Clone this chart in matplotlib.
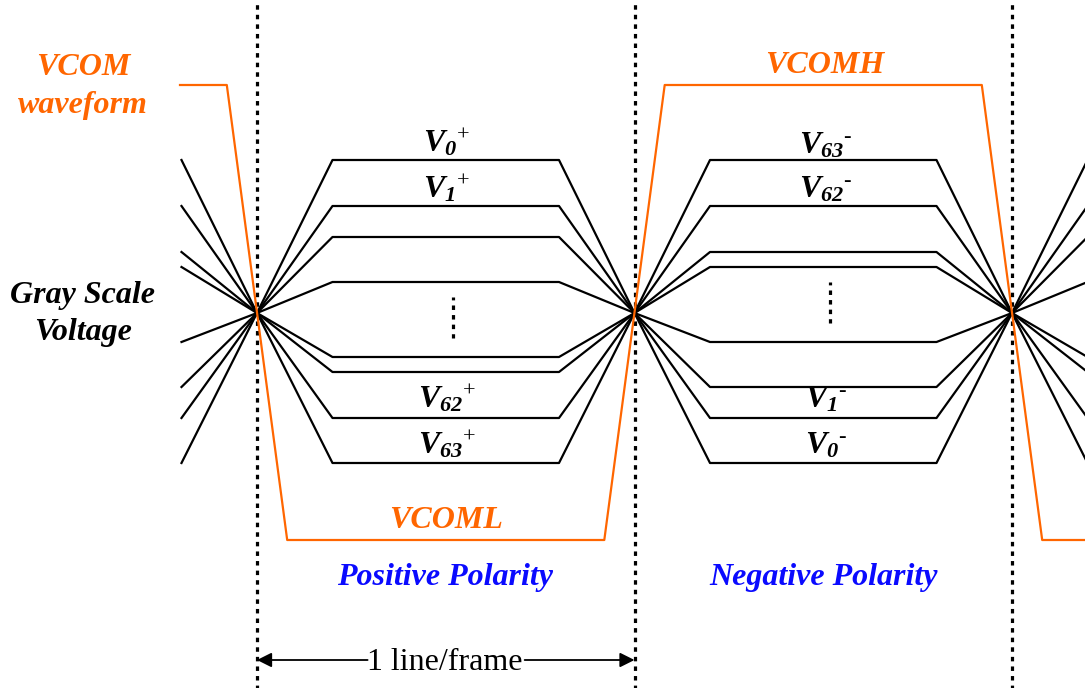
import matplotlib
matplotlib.use("Agg")
import matplotlib.pyplot as plt
import numpy as np

# ---------------- data ----------------
# time axis: one line/frame period = 1.0; polarity inversion instants
crossings = [0.0, 1.0, 2.0]
ramp = 0.2            # data-line transition time (fraction of frame)
vcom_ramp = 0.08      # VCOM transition half-width
# gray-scale voltage levels (arbitrary units, relative to the crossing point)
pos_levels = [15.3, 10.7, 7.6, 3.1, -4.4, -5.9, -10.5, -15.0]
neg_levels = [15.3, 10.7, 6.1, 4.6, -2.9, -7.4, -10.5, -15.0]
vcom_high = 22.8
vcom_low = -22.7
pos_labels = [r"$V_{\mathbf{0}}{}^{\text{+}}$", r"$V_{\mathbf{1}}{}^{\text{+}}$",
              r"$V_{\mathbf{62}}{}^{\text{+}}$", r"$V_{\mathbf{63}}{}^{\text{+}}$"]
pos_label_y = [16.1, 11.6, -9.5, -14.0]
neg_labels = [r"$V_{\mathbf{63}}{}^{\text{-}}$", r"$V_{\mathbf{62}}{}^{\text{-}}$",
              r"$V_{\mathbf{1}}{}^{\text{-}}$", r"$V_{\mathbf{0}}{}^{\text{-}}$"]
neg_label_y = [16.0, 11.6, -9.5, -14.0]

ORANGE = "#FF6600"
BLUE = "#0A0AFF"

plt.rcParams['mathtext.fontset'] = 'custom'
plt.rcParams['mathtext.rm'] = 'Liberation Serif'
plt.rcParams['mathtext.it'] = 'Liberation Serif:bold:italic'
plt.rcParams['mathtext.bf'] = 'Liberation Serif:bold:italic'

fig = plt.figure(figsize=(10.85, 6.88), dpi=100)
ax = fig.add_axes([0, 0, 1, 1])
px = 377.5  # pixels per frame
ax.set_xlim(-257 / px, (1085 - 257) / px)
ax.set_ylim(-37.5, 31.3)
ax.axis("off")

BI = dict(family="Liberation Serif", weight="bold", style="italic")
DOT = (0.5, (1.4, 1.6))
FS = 23

# gray-scale voltage waveforms
for p, n in zip(pos_levels, neg_levels):
    t = [crossings[0] - ramp, crossings[0], crossings[0] + ramp, crossings[1] - ramp,
         crossings[1], crossings[1] + ramp, crossings[2] - ramp, crossings[2], crossings[2] + ramp]
    v = [n, 0, p, p, 0, n, n, 0, p]
    ax.plot(t, v, color="black", lw=1.6, zorder=3)

# VCOM waveform
vt = [crossings[0] - 0.204, crossings[0] - vcom_ramp, crossings[0] + vcom_ramp,
      crossings[1] - vcom_ramp, crossings[1] + vcom_ramp, crossings[2] - vcom_ramp,
      crossings[2] + vcom_ramp, 2.3]
vv = [vcom_high, vcom_high, vcom_low, vcom_low, vcom_high, vcom_high, vcom_low, vcom_low]
ax.plot(vt, vv, color=ORANGE, lw=1.6, zorder=4)

# dotted frame boundaries
for c in crossings:
    ax.axvline(c, color="black", lw=2.3, ls=DOT, zorder=2)

# small vertical ellipsis marks
ax.plot([0.519, 0.519], [1.6, -2.5], color="black", lw=2.3, ls=DOT, zorder=3)
ax.plot([1.518, 1.518], [3.1, -1.0], color="black", lw=2.3, ls=DOT, zorder=3)

# level labels
for lab, ly in zip(pos_labels, pos_label_y):
    ax.text(0.503, ly, lab, fontsize=FS, ha="center", va="baseline", zorder=1)
for lab, ly in zip(neg_labels, neg_label_y):
    ax.text(1.507, ly, lab, fontsize=FS, ha="center", va="baseline", zorder=1)

# text annotations
xl = (83 - 257) / px
ax.text(xl, 31.3 - 7.5, "VCOM", color=ORANGE, fontsize=FS, ha="center", va="baseline", **BI)
ax.text(xl, 31.3 - 11.3, "waveform", color=ORANGE, fontsize=FS, ha="center", va="baseline", **BI)
ax.text(1.504, 31.3 - 7.3, "VCOMH", color=ORANGE, fontsize=FS, ha="center", va="baseline", **BI)
ax.text(0.500, 31.3 - 52.8, "VCOML", color=ORANGE, fontsize=FS, ha="center", va="baseline", **BI)
ax.text(xl, 31.3 - 30.3, "Gray Scale", color="black", fontsize=FS, ha="center", va="baseline", **BI)
ax.text(xl, 31.3 - 34.0, "Voltage", color="black", fontsize=FS, ha="center", va="baseline", **BI)
ax.text(0.498, 31.3 - 58.5, "Positive Polarity", color=BLUE, fontsize=FS, ha="center", va="baseline", **BI)
ax.text(1.502, 31.3 - 58.5, "Negative Polarity", color=BLUE, fontsize=FS, ha="center", va="baseline", **BI)

# 1 line/frame dimension arrow
ya = 31.3 - 66.0
ax.text(0.498, ya - 1.0, "1 line/frame", fontsize=FS, family="Liberation Serif", ha="center", va="baseline")
ax.annotate("", xy=(crossings[0], ya), xytext=(0.293, ya),
            arrowprops=dict(arrowstyle="-|>", color="black", lw=1.3, mutation_scale=22, shrinkA=0, shrinkB=0))
ax.annotate("", xy=(crossings[1], ya), xytext=(0.709, ya),
            arrowprops=dict(arrowstyle="-|>", color="black", lw=1.3, mutation_scale=22, shrinkA=0, shrinkB=0))

fig.savefig("out.png", dpi=100)
